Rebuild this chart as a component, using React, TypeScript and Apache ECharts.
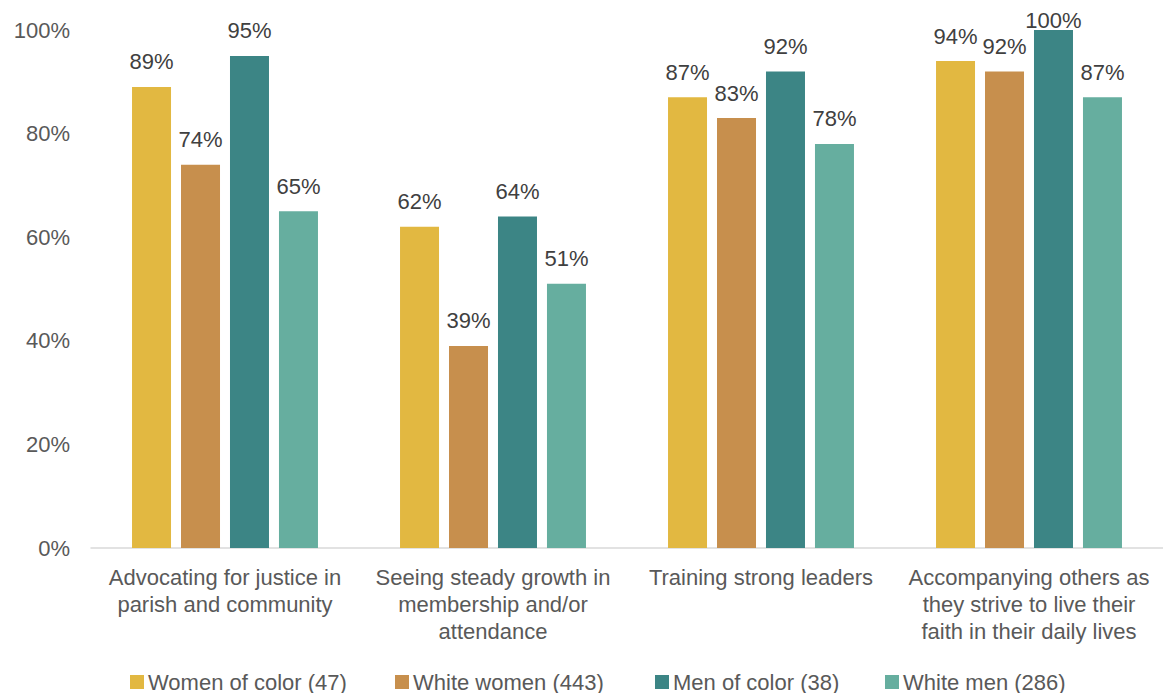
import React, { useEffect, useRef } from "react";
import * as echarts from "echarts";

const categories = [
  "Advocating for justice in\nparish and community",
  "Seeing steady growth in\nmembership and/or\nattendance",
  "Training strong leaders",
  "Accompanying others as\nthey strive to live their\nfaith in their daily lives",
];
const seriesNames = [
  "Women of color (47)",
  "White women (443)",
  "Men of color (38)",
  "White men (286)",
];
const womenOfColor = [89, 62, 87, 94];
const whiteWomen = [74, 39, 83, 92];
const menOfColor = [95, 64, 92, 100];
const whiteMen = [65, 51, 78, 87];
const colors = ["#E2B841", "#C78F4D", "#3C8585", "#66AE9F"];
const legendLefts = [130, 395, 655, 885];

const FONT = "'Liberation Sans', Arial, sans-serif";

export default function App() {
  const ref = useRef<HTMLDivElement>(null);
  useEffect(() => {
    if (!ref.current) return;
    const chart = echarts.init(ref.current, null, { renderer: "svg" });
    const values = [womenOfColor, whiteWomen, menOfColor, whiteMen];
    chart.setOption({
      animation: false,
      textStyle: { fontFamily: FONT },
      grid: { left: 91, width: 1082, top: 30, bottom: 145, containLabel: false },
      legend: seriesNames.map((n, i) => ({
        data: [n],
        left: legendLefts[i],
        top: 671,
        icon: "rect",
        itemWidth: 14,
        itemHeight: 14,
        itemGap: 4,
        padding: 0,
        textStyle: { fontFamily: FONT, fontSize: 22, color: "#595959", padding: [0, 0, 0, -1] },
      })),
      xAxis: {
        type: "category",
        data: categories,
        axisLine: { show: true, lineStyle: { color: "#D9D9D9", width: 1.5 } },
        axisTick: { show: false },
        axisLabel: {
          interval: 0,
          margin: 16,
          fontFamily: FONT,
          fontSize: 22,
          lineHeight: 27,
          color: "#595959",
        },
      },
      yAxis: {
        type: "value",
        min: 0,
        max: 100,
        interval: 20,
        axisLabel: {
          formatter: "{value}%",
          margin: 21,
          fontFamily: FONT,
          fontSize: 22,
          color: "#595959",
        },
        axisLine: { show: false },
        axisTick: { show: false },
        splitLine: { show: false },
      },
      series: seriesNames.map((n, i) => ({
        name: n,
        type: "bar",
        data: values[i].map((v) =>
          v >= 100 ? { value: v, label: { distance: -1 } } : v
        ),
        barWidth: 39,
        barGap: "25.6%",
        itemStyle: { color: colors[i] },
        label: {
          show: true,
          position: "top",
          distance: 14,
          formatter: "{c}%",
          fontFamily: FONT,
          fontSize: 22,
          color: "#404040",
        },
      })),
    });
    return () => chart.dispose();
  }, []);
  return (
    <div
      ref={ref}
      style={{ position: "absolute", left: 0, top: 0, width: 1163, height: 693, background: "#fff" }}
    />
  );
}
